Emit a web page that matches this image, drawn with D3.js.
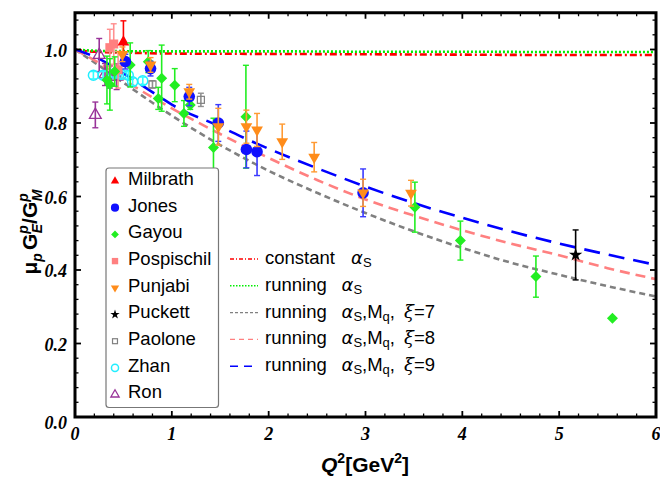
<!DOCTYPE html>
<html><head><meta charset="utf-8">
<script src="https://cdn.jsdelivr.net/npm/d3@7"></script>
<style>body{margin:0;background:#fff}svg{display:block}</style>
</head><body>
<svg id="c" width="660" height="478"></svg>
<script>
// ---------- data ----------
const xTicks = [0,1,2,3,4,5,6];
const yTicks = [0.0,0.2,0.4,0.6,0.8,1.0];

// theory curves [Q2, ratio]
const constAlpha = [[0,1.0],[0.1,0.996],[0.3,0.993],[0.6,0.991],[1,0.989],[2,0.988],[3,0.987],[4,0.986],[5,0.985],[6,0.985]];
const runAlpha   = [[0,1.0],[0.1,0.998],[0.3,0.996],[1,0.995],[2,0.995],[3,0.994],[4,0.994],[5,0.993],[6,0.993]];
const xi7 = [[0,1.0],[0.2,0.965],[0.5,0.91],[0.8,0.855],[1.0,0.82],[1.5,0.74],[2,0.67],[2.5,0.61],[3,0.555],[3.5,0.505],[4,0.46],[4.5,0.42],[5,0.387],[5.5,0.356],[6,0.328]];
const xi8 = [[0,1.0],[0.3,0.955],[0.64,0.895],[1.0,0.84],[1.5,0.77],[2,0.705],[2.5,0.645],[3,0.592],[3.5,0.548],[4,0.508],[4.5,0.472],[5,0.44],[5.5,0.405],[6,0.375]];
const xi9 = [[0,1.0],[0.26,0.973],[0.5,0.935],[0.88,0.87],[1.0,0.85],[1.5,0.79],[1.7,0.765],[2,0.73],[2.5,0.677],[3,0.627],[3.5,0.582],[4,0.542],[4.5,0.505],[5,0.472],[5.5,0.442],[6,0.414]];

// experimental points [Q2, ratio, error]
const milbrath  = [[0.50,1.02,0.058]];
const jones     = [[0.52,0.967,0.02],[0.78,0.948,0.02],[1.18,0.872,0.025],[1.48,0.80,0.05],[1.77,0.728,0.05],[1.88,0.722,0.065],[2.975,0.61,0.065]];
const gayou     = [[0.33,0.917,0.065],[0.36,0.905,0.07],[0.41,0.94,0.04],[0.57,0.958,0.06],[0.757,0.967,0.03],[0.86,0.867,0.03],[0.895,0.922,0.09],[1.03,0.903,0.045],[1.125,0.826,0.035],[1.19,0.849,0.012],[1.43,0.733,0.08],[1.765,0.817,0.14],[3.51,0.571,0.068],[3.98,0.48,0.053],[4.76,0.382,0.056],[5.55,0.269,0]];
const pospischil= [[0.36,1.005,0.05],[0.40,1.015,0.055],[0.445,0.945,0.05]];
const punjabi   = [[0.49,0.987,0.02],[0.78,0.958,0.02],[1.18,0.885,0.02],[1.48,0.79,0.05],[1.77,0.79,0.045],[1.88,0.781,0.045],[2.14,0.749,0.048],[2.47,0.707,0.04],[2.975,0.61,0.037],[3.47,0.609,0.035]];
const puckett   = [[5.17,0.441,0.068]];
const paolone   = [[0.80,0.905,0.01],[1.30,0.863,0.018]];
const zhan      = [[0.19,0.93,0.01],[0.29,0.93,0.01],[0.41,0.935,0.01],[0.48,0.932,0.01],[0.55,0.93,0.01],[0.595,0.912,0.01],[0.70,0.915,0.01]];
const ron       = [[0.21,0.822,0.035],[0.25,0.985,0.045],[0.31,0.932,0.03],[0.36,0.925,0.03],[0.43,0.926,0.035]];

const seriesNames = ["Milbrath","Jones","Gayou","Pospischil","Punjabi","Puckett","Paolone","Zhan","Ron"];
const curveTexts = ["constant","running","running","running","running"];
const curveXi = [null,null,"7","8","9"];

// ---------- setup ----------
const svg = d3.select("#c");
const L=75, R=656, T=12.75, B=417;
const x = d3.scaleLinear().domain([0,6]).range([L,R]);
const y = d3.scaleLinear().domain([0,1.1]).range([B,T]);

const plot = svg.append("g");
plot.append("defs").append("clipPath").attr("id","clip")
  .append("rect").attr("x",L).attr("y",T).attr("width",R-L).attr("height",B-T);

// curves
const line = d3.line().x(d=>x(d[0])).y(d=>y(d[1])).curve(d3.curveMonotoneX);
const curveStyles = [
  {data:constAlpha, color:"#ff0000", dash:"7,3,2,3", w:2.6},
  {data:runAlpha,   color:"#00ee00", dash:"2,2",      w:2.6},
  {data:xi7,        color:"#808080", dash:"6,4",      w:2.6},
  {data:xi8,        color:"#ff8080", dash:"10,6",     w:2.6},
  {data:xi9,        color:"#0000ff", dash:"16,9",     w:2.6}
];
const cg = plot.append("g").attr("clip-path","url(#clip)");
curveStyles.forEach(c=>{
  cg.append("path").attr("d",line(c.data)).attr("fill","none")
    .attr("stroke",c.color).attr("stroke-width",c.w).attr("stroke-dasharray",c.dash);
});

// marker drawing
function diamondPath(s){return `M0,${-s}L${s},0L0,${s}L${-s},0Z`;}
const styles = {
  Milbrath:  {bar:"#ff0000", draw:(g,s)=>g.append("path").attr("d",d3.symbol(d3.symbolTriangle, 60*s)()).attr("fill","#ff0000")},
  Jones:     {bar:"#3a3aff", draw:(g,s)=>g.append("circle").attr("r",5.8*Math.sqrt(s)).attr("fill","#1010ff")},
  Gayou:     {bar:"#22ee22", draw:(g,s)=>g.append("path").attr("d",diamondPath(5.5*Math.sqrt(s))).attr("fill","#22ee22")},
  Pospischil:{bar:"#ff9090", draw:(g,s)=>g.append("rect").attr("x",-4.5*Math.sqrt(s)).attr("y",-4.5*Math.sqrt(s)).attr("width",9*Math.sqrt(s)).attr("height",9*Math.sqrt(s)).attr("fill","#ff8080")},
  Punjabi:   {bar:"#ff9a33", draw:(g,s)=>g.append("path").attr("d",d3.symbol(d3.symbolTriangle, 60*s)()).attr("transform","rotate(180)").attr("fill","#ff8c1a")},
  Puckett:   {bar:"#000", draw:(g,s)=>g.append("path").attr("d",d3.symbol(d3.symbolStar, 55*s)()).attr("fill","#000")},
  Paolone:   {bar:"#909090", draw:(g,s)=>g.append("rect").attr("x",-3.5*Math.sqrt(s)).attr("y",-3.5*Math.sqrt(s)).attr("width",7*Math.sqrt(s)).attr("height",7*Math.sqrt(s)).attr("fill","none").attr("stroke","#808080").attr("stroke-width",1.2)},
  Zhan:      {bar:"#33ffff", draw:(g,s)=>g.append("circle").attr("r",5*Math.sqrt(s)).attr("fill","none").attr("stroke","#22eeff").attr("stroke-width",1.5)},
  Ron:       {bar:"#993399", draw:(g,s)=>g.append("path").attr("d",d3.symbol(d3.symbolTriangle, 60*s)()).attr("fill","none").attr("stroke","#993399").attr("stroke-width",1.3)}
};
const seriesData = {Milbrath:milbrath, Jones:jones, Gayou:gayou, Pospischil:pospischil, Punjabi:punjabi, Puckett:puckett, Paolone:paolone, Zhan:zhan, Ron:ron};

const drawOrder = ["Ron","Zhan","Paolone","Pospischil","Milbrath","Gayou","Jones","Punjabi","Puckett"];
const pg = plot.append("g");
drawOrder.forEach(name=>{
  const st = styles[name];
  seriesData[name].forEach(d=>{
    const g = pg.append("g");
    if(d[2]>0){
      const y1=y(d[1]+d[2]), y2=y(d[1]-d[2]), cx=x(d[0]);
      g.append("line").attr("x1",cx).attr("x2",cx).attr("y1",y1).attr("y2",y2).attr("stroke",st.bar).attr("stroke-width",1.6);
      [y1,y2].forEach(yy=>g.append("line").attr("x1",cx-3).attr("x2",cx+3).attr("y1",yy).attr("y2",yy).attr("stroke",st.bar).attr("stroke-width",1.4));
    }
    const m = g.append("g").attr("transform",`translate(${x(d[0])},${y(d[1])})`);
    st.draw(m,1);
  });
});

// frame and ticks
const fr = svg.append("g");
function ticksAlong(vals, minorStep, scale, axis){
  const [d0,d1]=scale.domain();
  const minors = d3.range(d0, d1+1e-9, minorStep);
  minors.forEach(v=>{
    const major = vals.some(t=>Math.abs(t-v)<1e-6);
    const len = major?6:3.5;
    const sw = major?1.8:1.3;
    if(axis==="x"){
      const px=scale(v);
      fr.append("line").attr("x1",px).attr("x2",px).attr("y1",B).attr("y2",B-len).attr("stroke","#000").attr("stroke-width",sw);
      fr.append("line").attr("x1",px).attr("x2",px).attr("y1",T).attr("y2",T+len).attr("stroke","#000").attr("stroke-width",sw);
    } else {
      const py=scale(v);
      fr.append("line").attr("y1",py).attr("y2",py).attr("x1",L).attr("x2",L+len).attr("stroke","#000").attr("stroke-width",sw);
      fr.append("line").attr("y1",py).attr("y2",py).attr("x1",R).attr("x2",R-len).attr("stroke","#000").attr("stroke-width",sw);
    }
  });
}
ticksAlong(xTicks, 0.2, x, "x");
ticksAlong(yTicks, 0.04, y, "y");
fr.append("rect").attr("x",L).attr("y",T).attr("width",R-L).attr("height",B-T)
  .attr("fill","none").attr("stroke","#000").attr("stroke-width",3);

// tick labels
const tf = "'Liberation Serif','Times New Roman',serif";
xTicks.forEach(t=>{
  svg.append("text").attr("x",x(t)).attr("y",B+23).attr("text-anchor","middle")
    .attr("font-family",tf).attr("font-weight","bold").attr("font-style","italic").attr("font-size",18)
    .text(d3.format("d")(t));
});
yTicks.forEach(t=>{
  svg.append("text").attr("x",L-8).attr("y",y(t)+(t===0?8:3)).attr("text-anchor","end").attr("dominant-baseline","middle")
    .attr("font-family",tf).attr("font-weight","bold").attr("font-style","italic").attr("font-size",18)
    .text(d3.format(".1f")(t));
});

// axis titles
const af = "Arial,'Liberation Sans',sans-serif";
const xt = svg.append("text").attr("x",365).attr("y",472).attr("text-anchor","middle")
  .attr("font-family",af).attr("font-weight","bold").attr("font-size",21);
xt.append("tspan").attr("font-style","italic").text("Q");
xt.append("tspan").attr("font-size",14).attr("dy",-9).text("2");
xt.append("tspan").attr("dy",9).text("[GeV");
xt.append("tspan").attr("font-size",14).attr("dy",-9).text("2");
xt.append("tspan").attr("dy",9).text("]");

const yt = svg.append("text").attr("transform","translate(37,232) rotate(-90)").attr("text-anchor","middle")
  .attr("font-family",af).attr("font-weight","bold").attr("font-size",21);
yt.append("tspan").text("μ");
yt.append("tspan").attr("font-size",14).attr("font-style","italic").attr("dy",5).text("p");
yt.append("tspan").attr("dy",-5).attr("dx",3).text("G");
yt.append("tspan").attr("font-size",14).attr("font-style","italic").attr("dy",-9).text("p");
yt.append("tspan").attr("font-size",14).attr("font-style","italic").attr("dy",14).attr("dx",-8).text("E");
yt.append("tspan").attr("dy",-5).text("/G");
yt.append("tspan").attr("font-size",14).attr("font-style","italic").attr("dy",-9).text("p");
yt.append("tspan").attr("font-size",14).attr("font-style","italic").attr("dy",14).attr("dx",-8).text("M");

// legend 1 (data sets)
const lg = svg.append("g");
lg.append("rect").attr("x",106).attr("y",168).attr("width",112.5).attr("height",239.5).attr("rx",3)
  .attr("fill","#fff").attr("stroke","#777").attr("stroke-width",1.2);
seriesNames.forEach((n,i)=>{
  const yy = 180 + i*26.7;
  const m = lg.append("g").attr("transform",`translate(115,${yy+1})`);
  styles[n].draw(m, 0.5);
  lg.append("text").attr("x",128).attr("y",yy).attr("dominant-baseline","middle")
    .attr("font-family",af).attr("font-size",18.5).text(n);
});

// legend 2 (curves)
const lg2 = svg.append("g");
const swDash = ["4,2,1,2","1.5,1.5","3,2","5,4","8,6"];
curveStyles.forEach((c,i)=>{
  const yy = 259 + i*26.8;
  lg2.append("line").attr("x1",230).attr("x2",258).attr("y1",yy).attr("y2",yy)
    .attr("stroke",c.color).attr("stroke-width",1.4).attr("stroke-dasharray", swDash[i]);
  const t = lg2.append("text").attr("y",yy).attr("dominant-baseline","middle")
    .attr("font-family",af).attr("font-size",18.5);
  const ax = i===0 ? 351 : 341.5;
  t.append("tspan").attr("x",265).text(curveTexts[i]);
  t.append("tspan").attr("x",ax).attr("font-style","italic").attr("font-family","'DejaVu Sans',sans-serif").attr("font-size",18).text("α");
  t.append("tspan").attr("font-size",13).attr("dy",5).text("S");
  if(curveXi[i]){
    t.append("tspan").attr("dy",-5).text(",M");
    t.append("tspan").attr("font-size",13).attr("dy",5).text("q");
    t.append("tspan").attr("dy",-5).text(",");
    t.append("tspan").attr("x",404).attr("font-style","italic").attr("font-family","'DejaVu Serif',serif").attr("font-size",18).text("ξ");
    t.append("tspan").text("=" + curveXi[i]);
  }
});
</script>
</body></html>
